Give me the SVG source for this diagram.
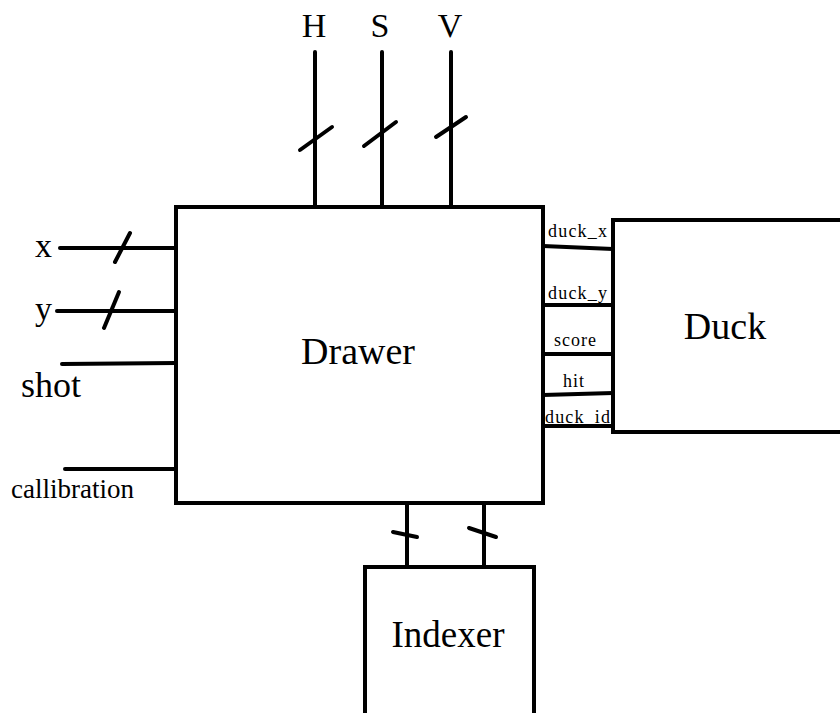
<svg xmlns="http://www.w3.org/2000/svg" width="840" height="713" viewBox="0 0 840 713">
<style>
.box{fill:none;stroke:#000;stroke-width:4}
.w{stroke:#000;stroke-width:4;fill:none;stroke-linecap:round}
text{fill:#000}
</style>
<rect width="840" height="713" fill="#fff"/>
<g id="drawer">
<rect class="box" x="176" y="207" width="367" height="296"/>
<text font-family="'Liberation Serif', 'DejaVu Serif', serif" x="358" y="364" font-size="38" text-anchor="middle">Drawer</text>
</g>
<g id="duck">
<rect class="box" x="613" y="220" width="240" height="212"/>
<text font-family="'Liberation Serif', 'DejaVu Serif', serif" x="725" y="339" font-size="38" text-anchor="middle">Duck</text>
</g>
<g id="indexer">
<rect class="box" x="365" y="567" width="169" height="160"/>
<text font-family="'Liberation Serif', 'DejaVu Serif', serif" x="448" y="647" font-size="37" text-anchor="middle">Indexer</text>
</g>
<g id="connectors">
<line class="w" x1="315" y1="52" x2="315" y2="207"/>
<line class="w" x1="382" y1="52" x2="382" y2="207"/>
<line class="w" x1="451" y1="52" x2="451" y2="207"/>
<line class="w" x1="300" y1="150" x2="332" y2="127"/>
<line class="w" x1="364" y1="146" x2="396" y2="122"/>
<line class="w" x1="436" y1="137" x2="466" y2="117"/>
<line class="w" x1="60" y1="248" x2="176" y2="248"/>
<line class="w" x1="115" y1="262" x2="130" y2="233"/>
<line class="w" x1="57" y1="311" x2="176" y2="311"/>
<line class="w" x1="104" y1="328" x2="119" y2="292"/>
<line class="w" x1="62" y1="364" x2="176" y2="363"/>
<line class="w" x1="65" y1="469" x2="176" y2="469"/>
<line class="w" x1="543" y1="246" x2="613" y2="249"/>
<line class="w" x1="543" y1="305" x2="613" y2="305"/>
<line class="w" x1="543" y1="354" x2="613" y2="354"/>
<line class="w" x1="543" y1="395" x2="613" y2="393"/>
<line class="w" x1="543" y1="426" x2="613" y2="426"/>
<line class="w" x1="407" y1="503" x2="407" y2="567"/>
<line class="w" x1="484" y1="503" x2="484" y2="567"/>
<line class="w" x1="393" y1="532" x2="417" y2="537"/>
<line class="w" x1="469" y1="528" x2="496" y2="537"/>
</g>
<g id="labels" font-family="'Liberation Serif', 'DejaVu Serif', serif">
<text x="314" y="37" font-size="34" text-anchor="middle">H</text>
<text x="380" y="37" font-size="34" text-anchor="middle">S</text>
<text x="450" y="37" font-size="34" text-anchor="middle">V</text>
<text x="35" y="257" font-size="34">x</text>
<text x="35" y="320" font-size="34">y</text>
<text x="21" y="397" font-size="36">shot</text>
<text x="11" y="498" font-size="27">callibration</text>
<text x="548" y="237" font-size="18" textLength="59">duck_x</text>
<text x="548" y="299" font-size="18" textLength="59">duck_y</text>
<text x="554" y="346" font-size="18" textLength="42">score</text>
<text x="563" y="387" font-size="18" textLength="21">hit</text>
<text x="545" y="423" font-size="18" textLength="65">duck_id</text>
</g>
</svg>
